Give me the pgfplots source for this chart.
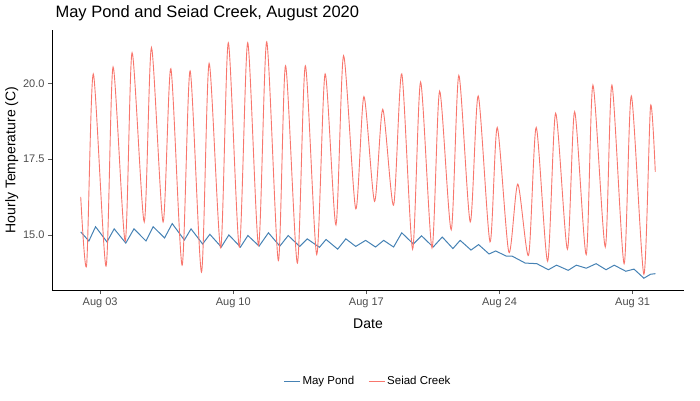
\documentclass[border=0pt]{standalone}
\usepackage{pgfplots}
\pgfplotsset{compat=1.18}
\usepackage{fontspec}
\setmainfont{Liberation Sans}
\definecolor{seiad}{HTML}{F8766D}
\definecolor{may}{HTML}{4682B4}
\begin{document}
\begin{tikzpicture}[x=1pt,y=1pt]
\useasboundingbox (0,0) rectangle (700,400);
\begin{axis}[at={(52pt,110pt)},anchor=south west,scale only axis,width=632pt,height=260pt,
 xmin=0.47,xmax=33.7,ymin=13.18,ymax=21.77,
 axis x line*=bottom,axis y line*=left,axis line style={black,line width=0.6pt,-},
 xtick={3,10,17,24,31},xticklabels={Aug 03,Aug 10,Aug 17,Aug 24,Aug 31},
 ytick={15,17.5,20},yticklabels={15.0,17.5,20.0},
 tick style={gray!70!black,line width=0.6pt},tick align=outside,major tick length=4pt,
 ticklabel style={font=\fontsize{11}{12}\selectfont,text=black!70},
 xlabel={Date},ylabel={Hourly Temperature (C)},
 label style={font=\fontsize{14}{15}\selectfont},
 xlabel style={yshift=-4pt},ylabel style={yshift=-2pt},
 legend columns=2,legend style={at={(0.5,-0.35)},anchor=center,draw=none,font=\fontsize{11.5}{12}\selectfont,/tikz/every even column/.append style={column sep=12pt}},
 legend image code/.code={\draw[#1](0pt,0pt)--(16pt,0pt);},
]
\addplot[may,line width=1pt] coordinates {(1.98,15.10)(2.41,14.80)(2.76,15.27)(3.36,14.77)(3.74,15.20)(4.35,14.73)(4.78,15.20)(5.41,14.80)(5.79,15.27)(6.39,14.90)(6.79,15.375)(7.43,14.83)(7.78,15.20)(8.39,14.70)(8.77,15.02)(9.37,14.60)(9.77,15.00)(10.38,14.60)(10.77,14.98)(11.36,14.63)(11.85,15.07)(12.45,14.63)(12.89,14.98)(13.49,14.62)(13.89,14.87)(14.53,14.59)(14.88,14.85)(15.49,14.53)(15.92,14.87)(16.44,14.62)(16.96,14.82)(17.48,14.60)(17.91,14.82)(18.43,14.60)(18.86,15.07)(19.47,14.70)(19.90,14.97)(20.51,14.60)(20.99,14.93)(21.55,14.55)(21.93,14.82)(22.50,14.50)(22.90,14.68)(23.45,14.37)(23.80,14.47)(24.35,14.30)(24.66,14.30)(25.35,14.07)(25.96,14.05)(26.57,13.85)(27.00,14.00)(27.61,13.83)(28.04,14.00)(28.56,13.90)(29.08,14.05)(29.60,13.85)(30.03,14.00)(30.64,13.80)(31.07,13.87)(31.59,13.57)(31.94,13.70)(32.20,13.72)};
\addlegendentry{May Pond}
\addplot[seiad,line width=0.9pt,smooth,tension=0.45] coordinates {(1.98,16.26)(2.29,14.00)(2.64,20.32)(3.31,13.97)(3.68,20.55)(4.32,14.80)(4.68,21.02)(5.32,15.43)(5.70,21.19)(6.31,15.43)(6.72,20.49)(7.31,14.00)(7.73,20.42)(8.33,13.77)(8.73,20.67)(9.34,14.57)(9.74,21.35)(10.32,14.60)(10.76,21.35)(11.33,14.65)(11.76,21.38)(12.37,14.15)(12.75,20.59)(13.37,14.07)(13.79,20.59)(14.39,14.35)(14.83,20.32)(15.40,15.33)(15.80,20.92)(16.44,15.86)(16.87,19.57)(17.43,16.11)(17.86,19.15)(18.43,15.98)(18.86,20.32)(19.43,14.53)(19.85,20.05)(20.45,14.57)(20.85,19.75)(21.46,15.17)(21.86,20.27)(22.46,15.43)(22.88,19.59)(23.50,14.77)(23.88,18.55)(24.49,14.43)(24.96,16.68)(25.53,14.33)(25.93,18.55)(26.53,14.13)(26.95,19.02)(27.57,14.53)(27.95,19.07)(28.56,14.35)(28.91,19.95)(29.56,14.60)(29.91,19.95)(30.55,14.05)(30.93,19.59)(31.59,13.70)(31.94,19.25)(32.19,17.08)};
\addlegendentry{Seiad Creek}
\end{axis}
\node[anchor=north west,font=\fontsize{16.5}{18}\selectfont] at (52,398) {May Pond and Seiad Creek, August 2020};
\end{tikzpicture}
\end{document}
